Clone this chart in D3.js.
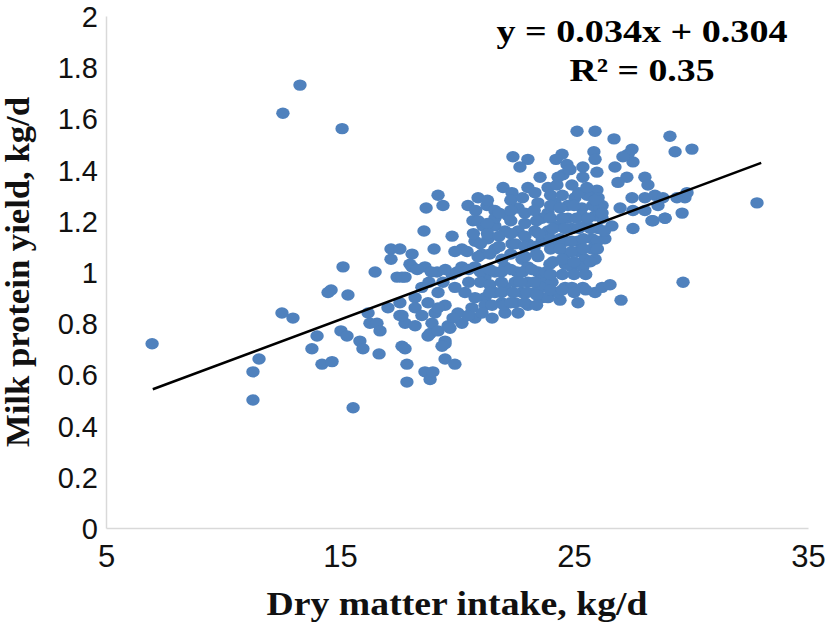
<!DOCTYPE html>
<html>
<head>
<meta charset="utf-8">
<script src="https://cdn.jsdelivr.net/npm/d3@7"></script>
<style>
  html, body { margin: 0; padding: 0; background: #ffffff; }
  svg { display: block; }
</style>
</head>
<body>
<svg id="chart" width="827" height="626"></svg>
<script>
// ---- data ----
const xTicks = [5, 15, 25, 35];
const xTickLabels = ["5", "15", "25", "35"];
const yTicks = [0, 0.2, 0.4, 0.6, 0.8, 1, 1.2, 1.4, 1.6, 1.8, 2];
const yTickLabels = ["0", "0.2", "0.4", "0.6", "0.8", "1", "1.2", "1.4", "1.6", "1.8", "2"];

const dmi = [
  6.97, 11.28, 11.54, 11.28, 12.52, 12.99, 12.56, 13.29, 15.09, 14.02,
  13.80, 14.23, 14.66, 15.56, 15.04, 15.30, 15.85, 15.98, 16.67, 16.20,
  16.28, 16.58, 16.71, 17.05, 15.13, 14.62, 14.49, 15.34, 16.50, 17.18,
  17.18, 18.08, 17.99, 17.44, 17.78, 17.56, 17.78, 17.65, 17.78, 17.86,
  17.86, 18.63, 18.85, 18.97, 19.49, 19.91, 19.49, 18.85, 32.82, 29.66,
  29.10, 29.32, 30.04, 25.13, 25.90, 26.71, 22.39, 23.03, 22.69, 24.49,
  27.48, 27.31, 27.52, 25.85, 25.90, 27.09, 26.75, 25.38, 24.70, 24.53,
  25.98, 24.32, 24.91, 23.89, 27.26, 26.88, 28.03, 28.16, 25.98, 25.56,
  26.03, 27.48, 28.03, 28.46, 28.80, 29.40, 29.74, 26.97, 27.52, 28.03,
  28.59, 29.62, 28.33, 28.89, 27.52, 29.83, 25.04, 24.74, 25.34, 26.20,
  25.90, 25.34, 24.74, 24.19, 23.89, 26.62, 26.03, 25.47, 24.91, 24.32,
  23.89, 24.06, 24.62, 25.17, 25.77, 26.32, 25.77, 25.17, 24.62, 25.90,
  25.47, 19.19, 19.40, 18.68, 18.59, 19.79, 19.02, 20.21, 17.56, 20.43,
  19.91, 20.90, 20.47, 20.68, 21.28, 21.62, 21.97, 22.35, 23.03, 23.55,
  23.33, 23.46, 23.63, 22.61, 22.18, 21.62, 21.11, 20.77, 21.32, 22.05,
  22.61, 23.33, 21.07, 21.62, 22.35, 23.03, 23.63, 21.92, 22.78, 23.46,
  21.62, 17.65, 18.08, 18.63, 19.15, 19.79, 20.21, 20.77, 21.20, 21.62,
  22.05, 22.56, 23.03, 23.46, 23.63, 23.03, 22.48, 22.05, 21.62, 21.20,
  20.77, 20.34, 19.91, 19.19, 18.50, 17.56, 18.21, 18.76, 19.49, 18.21,
  17.65, 18.50, 19.06, 20.04, 20.64, 21.20, 21.92, 22.48, 23.03, 23.63,
  23.33, 22.78, 23.63, 18.21, 18.93, 19.62, 20.21, 20.77, 21.50, 19.83,
  18.76, 19.19, 19.49, 19.70, 19.36, 19.19, 20.47, 21.07, 22.05, 22.61,
  23.97, 24.62, 24.91, 25.38, 24.06, 24.62, 24.91, 25.38, 25.90, 26.20,
  26.54, 23.89, 24.40, 25.17, 27.01, 24.32, 28.38, 28.89,
  // dense core of the cloud
  21.30, 22.30, 22.80, 20.80, 21.80, 22.30, 22.90, 23.30, 20.90, 21.30,
  22.30, 22.90, 23.40, 20.70, 21.30, 21.80, 22.30, 22.90, 23.50, 21.00,
  21.80, 22.50, 22.90, 23.30, 20.90, 21.40, 22.30, 22.90, 23.40, 24.00,
  24.50, 25.20, 24.00, 24.40, 25.00, 25.80, 24.00, 24.50, 25.10, 25.60,
  26.20, 24.10, 24.60, 25.20, 25.70, 26.30, 24.00, 24.40, 24.90, 25.40,
  26.00, 24.00, 24.40, 24.90, 25.40, 26.00, 24.10, 24.50, 25.00, 25.70,
  18.30, 18.90, 19.50, 20.00, 20.50, 21.00, 21.40, 21.90, 22.30, 22.80,
  23.20, 23.80, 18.80, 19.40, 20.50, 21.00, 21.40, 21.90, 22.70, 23.30,
  21.40, 21.90, 22.40, 23.00, 23.40, 21.50, 22.00, 22.30, 22.90, 23.40,
  24.00, 24.50, 25.00, 25.50, 24.00, 24.50, 25.00, 25.50, 24.23, 24.83,
  24.27, 25.38, 25.55, 26.10, 25.90, 26.20
];
const proteinYield = [
  0.72, 0.61, 0.66, 0.50, 0.84, 0.82, 1.62, 1.73, 1.56, 0.75,
  0.70, 0.64, 0.65, 0.47, 0.77, 0.75, 0.73, 0.70, 0.68, 0.84,
  0.80, 0.80, 0.77, 0.86, 1.02, 0.93, 0.92, 0.91, 1.00, 1.09,
  1.05, 1.07, 1.03, 0.98, 0.98, 0.83, 0.80, 0.71, 0.70, 0.64,
  0.57, 0.61, 0.58, 0.61, 0.66, 0.64, 0.72, 0.76, 1.27, 0.96,
  1.53, 1.47, 1.48, 1.55, 1.55, 1.52, 1.45, 1.44, 1.41, 1.46,
  1.48, 1.46, 1.43, 1.47, 1.44, 1.45, 1.41, 1.41, 1.42, 1.38,
  1.39, 1.37, 1.34, 1.33, 1.37, 1.35, 1.37, 1.34, 1.32, 1.30,
  1.29, 1.29, 1.29, 1.30, 1.29, 1.29, 1.29, 1.25, 1.24, 1.24,
  1.26, 1.23, 1.20, 1.21, 1.17, 1.31, 1.29, 1.26, 1.25, 1.26,
  1.22, 1.22, 1.21, 1.27, 1.23, 1.18, 1.17, 1.18, 1.17, 1.18,
  1.16, 1.11, 1.12, 1.12, 1.13, 1.13, 1.09, 1.08, 1.07, 1.05,
  1.05, 1.30, 1.26, 1.25, 1.16, 1.14, 1.09, 1.09, 1.09, 1.08,
  1.08, 1.29, 1.26, 1.20, 1.26, 1.24, 1.33, 1.31, 1.33, 1.37,
  1.31, 1.27, 1.21, 1.25, 1.22, 1.18, 1.18, 1.12, 1.13, 1.16,
  1.16, 1.16, 1.07, 1.09, 1.11, 1.11, 1.12, 1.05, 1.05, 1.06,
  1.21, 0.98, 1.02, 1.02, 1.00, 0.99, 1.02, 1.02, 0.98, 1.00,
  1.02, 1.00, 1.02, 1.00, 0.97, 0.96, 0.96, 0.94, 0.92, 0.90,
  0.90, 0.92, 0.94, 0.92, 0.94, 0.88, 0.90, 0.88, 0.87, 0.86,
  0.83, 0.83, 0.84, 0.84, 0.86, 0.87, 0.88, 0.88, 0.87, 0.90,
  0.92, 0.92, 0.94, 0.79, 0.80, 0.79, 0.80, 0.82, 0.82, 0.82,
  0.75, 0.77, 0.73, 0.78, 0.71, 0.86, 0.83, 0.84, 0.84, 0.84,
  1.03, 1.03, 1.02, 1.02, 0.96, 0.94, 0.94, 0.94, 0.92, 0.94,
  0.95, 0.90, 0.89, 0.88, 0.89, 0.92, 1.20, 1.21,
  // dense core of the cloud
  1.28, 1.28, 1.29, 1.24, 1.23, 1.24, 1.23, 1.24, 1.20, 1.19,
  1.20, 1.19, 1.20, 1.15, 1.15, 1.14, 1.15, 1.14, 1.15, 1.11,
  1.10, 1.11, 1.10, 1.10, 1.06, 1.07, 1.07, 1.06, 1.07, 1.30,
  1.30, 1.31, 1.26, 1.25, 1.26, 1.26, 1.21, 1.21, 1.21, 1.21,
  1.21, 1.17, 1.17, 1.17, 1.17, 1.16, 1.13, 1.13, 1.12, 1.13,
  1.12, 1.09, 1.09, 1.08, 1.09, 1.09, 1.04, 1.05, 1.04, 1.04,
  1.01, 1.00, 1.01, 1.00, 1.01, 1.00, 1.01, 1.00, 1.01, 1.00,
  1.01, 1.00, 0.96, 0.96, 0.96, 0.96, 0.95, 0.96, 0.96, 0.96,
  0.92, 0.92, 0.92, 0.92, 0.91, 0.87, 0.87, 0.88, 0.88, 0.87,
  0.99, 0.99, 0.99, 0.99, 0.93, 0.93, 0.92, 0.93, 1.44, 1.40,
  1.34, 1.37, 1.33, 1.25, 1.28, 1.23
];

const slope = 0.034;
const intercept = 0.304;
const fitRange = [7, 33];
const equationLines = ["y = 0.034x + 0.304", "R² = 0.35"];
const xTitle = "Dry matter intake, kg/d";
const yTitle = "Milk protein yield, kg/d";

// ---- chart ----
const svg = d3.select("#chart");
const x = d3.scaleLinear().domain([5, 35]).range([106, 808]);
const y = d3.scaleLinear().domain([0, 2]).range([528, 16]);

const axisColor = "#d9d9d9";
const tickFont = "'Liberation Sans', Arial, sans-serif";
const titleFont = "'Liberation Serif', 'Times New Roman', serif";

// y axis
const yAxis = svg.append("g")
  .attr("transform", `translate(${x(5)},0)`)
  .call(d3.axisLeft(y).tickValues(yTicks)
    .tickFormat((d, i) => yTickLabels[i]).tickSize(0).tickPadding(8));
yAxis.select(".domain").attr("stroke", axisColor).attr("stroke-width", 1.5);
yAxis.selectAll("text")
  .attr("font-family", tickFont).attr("font-size", 29).attr("fill", "#111")
  .attr("dy", "0.36em");

// x axis
const xAxis = svg.append("g")
  .attr("transform", `translate(0,${y(0)})`)
  .call(d3.axisBottom(x).tickValues(xTicks)
    .tickFormat((d, i) => xTickLabels[i]).tickSize(0).tickPadding(17));
xAxis.select(".domain").attr("stroke", axisColor).attr("stroke-width", 1.5);
xAxis.selectAll("text")
  .attr("font-family", tickFont).attr("font-size", 31).attr("fill", "#111");

// points
const pts = dmi.map((d, i) => ({ x: d, y: proteinYield[i] }));
svg.append("g").selectAll("ellipse").data(pts).join("ellipse")
  .attr("cx", d => x(d.x)).attr("cy", d => y(d.y))
  .attr("rx", 6.7).attr("ry", 5.7)
  .attr("fill", "#4f81bd");

// regression line
svg.append("line")
  .attr("x1", x(fitRange[0])).attr("y1", y(slope * fitRange[0] + intercept))
  .attr("x2", x(fitRange[1])).attr("y2", y(slope * fitRange[1] + intercept))
  .attr("stroke", "#000").attr("stroke-width", 2.5);

// equation
svg.append("text").attr("x", 642).attr("y", 42)
  .attr("text-anchor", "middle").attr("font-family", titleFont)
  .attr("font-weight", "bold").attr("font-size", 32)
  .attr("textLength", 291).attr("lengthAdjust", "spacingAndGlyphs")
  .text(equationLines[0]);
svg.append("text").attr("x", 642).attr("y", 81)
  .attr("text-anchor", "middle").attr("font-family", titleFont)
  .attr("font-weight", "bold").attr("font-size", 32)
  .attr("textLength", 145).attr("lengthAdjust", "spacingAndGlyphs")
  .text(equationLines[1]);

// axis titles
svg.append("text").attr("x", 457).attr("y", 615)
  .attr("text-anchor", "middle").attr("font-family", titleFont)
  .attr("font-weight", "bold").attr("font-size", 33)
  .attr("textLength", 381).attr("lengthAdjust", "spacingAndGlyphs")
  .attr("fill", "#111")
  .text(xTitle);
svg.append("text")
  .attr("transform", "translate(29,272) rotate(-90)")
  .attr("text-anchor", "middle").attr("font-family", titleFont)
  .attr("font-weight", "bold").attr("font-size", 33)
  .attr("textLength", 350).attr("lengthAdjust", "spacingAndGlyphs")
  .attr("fill", "#111")
  .text(yTitle);
</script>
</body>
</html>
